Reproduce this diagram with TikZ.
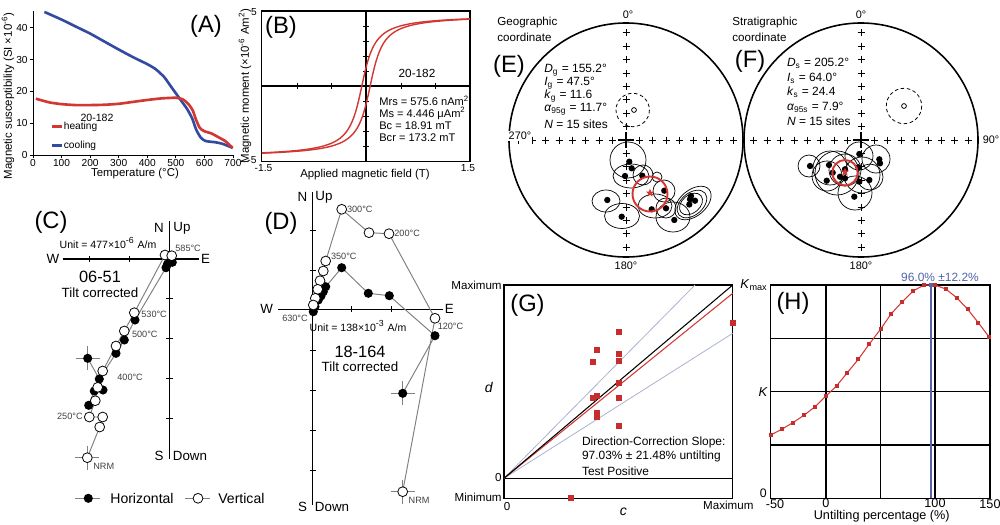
\documentclass[tikz,border=0pt]{standalone}
\usepackage{fontspec}
\setmainfont{Liberation Sans}
\usetikzlibrary{shapes.geometric}
\definecolor{hred}{RGB}{210,55,50}
\definecolor{cblue}{RGB}{50,75,160}
\definecolor{sqred}{RGB}{200,45,45}
\definecolor{lgray}{RGB}{170,178,205}
\definecolor{vblue}{RGB}{85,100,170}
\definecolor{tblue}{RGB}{80,100,170}
\definecolor{zgray}{gray}{0.5}
\newcommand\fsz[1]{\fontsize{#1}{#1}\selectfont}
\tikzset{
  plab/.style={font=\fsz{13.5}},
  axlab/.style={font=\fsz{6.5}},
  ticklab/.style={font=\fsz{5.8}},
  nsew/.style={font=\fsz{7.6}},
  tmp/.style={font=\fsz{5.2}, text=black!75},
  stat/.style={font=\fsz{6.8}, anchor=west},
  ell/.style={draw=black, line width=0.4pt},
  zline/.style={draw=zgray, line width=0.55pt},
  crs/.style={draw=zgray, line width=0.45pt},
  odot/.style={draw=black, fill=white, line width=0.45pt},
  pmark/.pic={\draw[line width=0.45pt] (-3.5,0)--(3.5,0) (0,-3.5)--(0,3.5);},
  rsq/.pic={\fill[sqred] (-3,-3) rectangle (3,3);},
  hsq/.pic={\fill[sqred] (-2,-2) rectangle (2,2);},
}
\begin{document}
\begin{tikzpicture}[x=0.02cm, y=-0.02cm, every node/.append style={inner sep=0pt}]
\useasboundingbox (0,0) rectangle (1000,524);

% ================= Panel A =================
\draw[line width=0.5pt] (33,11) -- (33,155) -- (233,155);
\foreach \v [count=\i from 0] in {0,100,200,300,400,500,600,700}{
  \draw[line width=0.5pt] (33+\i*28.57,155) -- ++(0,3);
  \node[ticklab] (ax\i) at (33+\i*28.57,163) {\v};
}
\foreach \v in {0,10,20,30,40}{
  \draw[line width=0.5pt] (33,155-\v*3.18) -- ++(-3,0);
  \node[ticklab, anchor=east] (ay\v) at (28,155-\v*3.18) {\v};
}
\begin{scope}[shift={(33,155)}, x=0.005714cm, y=0.0636cm]
\draw[cblue, line width=1.5pt, line join=round] plot[smooth, tension=0.4] coordinates {(40,45) (100,42.6) (150,40.4) (200,38.2) (250,35.7) (300,33.2) (350,30.8) (400,28.6) (430,27) (460,24.5) (480,22) (500,19.5) (520,17) (540,14.5) (558,11.5) (572,8) (588,5.5) (605,4.4) (640,4) (665,3.5) (690,2.6) (700,2.2)};
\draw[hred, line width=1.5pt, line join=round] plot[smooth, tension=0.4] coordinates {(10,17.7) (30,17.2) (60,16.5) (100,16) (150,15.7) (200,15.7) (250,15.8) (300,16.1) (350,16.7) (400,17.3) (450,17.8) (500,18) (525,17.5) (545,16) (560,14) (572,11) (585,8.5) (600,7.5) (625,6.8) (650,5.6) (675,4.3) (700,2.2)};
\end{scope}
\draw[hred, line width=1.5pt] (52,126.7) -- (62,126.7);
\draw[cblue, line width=1.5pt] (52,145.5) -- (62,145.5);
\node[font=\fsz{5.8}, anchor=west] (aheat) at (63.5,126.7) {heating};
\node[font=\fsz{5.8}, anchor=west] (acool) at (63.5,145.5) {cooling};
\node[font=\fsz{6}] (aid) at (97,118) {20-182};
\node[plab] (pA) at (206,26.5) {(A)};
\node[axlab] (axA) at (135,174) {Temperature (°C)};
\node[axlab, rotate=90] (ayA) at (8,96) {Magnetic susceptibility (SI ×10\textsuperscript{-6})};

% ================= Panel B =================
\draw[line width=0.7pt] (261.7,11) rectangle (470,161.7);
\draw[line width=0.6pt] (261.7,86) -- (470,86);
\draw[line width=0.6pt] (366,11) -- (366,161.7);
\foreach \xx in {297,331.7,401,435} \draw[line width=0.5pt] (\xx,83) -- (\xx,89);
\foreach \yy in {26,41,56,71,101,116,131,146} \draw[line width=0.5pt] (363,\yy) -- (369,\yy);
\begin{scope}[shift={(366,86)}, x=1.388cm, y=0.3cm]
\draw[hred, line width=0.8pt] plot[domain=-1.5:1.5, samples=150] (\x, {4.75*atan((\x+0.06)/0.14)/90});
\draw[hred, line width=0.8pt] plot[domain=-1.5:1.5, samples=150] (\x, {4.75*atan((\x-0.06)/0.14)/90});
\end{scope}
\node[plab] (pB) at (281,27) {(B)};
\node[font=\fsz{6.7}] (bid) at (417,73) {20-182};
\node[stat, font=\fsz{6.3}] (bs1) at (379,101) {Mrs = 575.6 nAm\textsuperscript{2}};
\node[stat, font=\fsz{6.3}] (bs2) at (379,113.5) {Ms = 4.446 μAm\textsuperscript{2}};
\node[stat, font=\fsz{6.3}] (bs3) at (379,126) {Bc = 18.91 mT};
\node[stat, font=\fsz{6.3}] (bs4) at (379,138) {Bcr = 173.2 mT};
\node[ticklab] (b5) at (254,12) {5};
\node[ticklab] (bm5) at (252,160) {-5};
\node[ticklab] (bm15) at (263.5,168.5) {-1.5};
\node[ticklab] (b15) at (468,168.5) {1.5};
\node[axlab] (axB) at (365,175) {Applied magnetic field (T)};
\node[axlab, rotate=90] (ayB) at (245,86) {Magnetic moment (×10\textsuperscript{-6} Am\textsuperscript{2})};

% ================= Panel C =================
\draw[line width=0.75pt] (63,259) -- (199,259);
\draw[line width=0.75pt] (169.3,221) -- (169.3,459);
\foreach \xx in {89,129} \draw[line width=0.45pt] (\xx,256) -- (\xx,262);
\foreach \yy in {298,338,378,418} \draw[line width=0.45pt] (166,\yy) -- (172.5,\yy);
\node[nsew] (cN) at (159,228) {N};
\node[nsew] (cUp) at (182,228) {Up};
\node[nsew] (cW) at (53,259) {W};
\node[nsew] (cE) at (205.5,259) {E};
\node[nsew] (cS) at (159,456) {S};
\node[nsew] (cDown) at (190,456) {Down};
\node[plab] (pC) at (51,222) {(C)};
\node[font=\fsz{6}] (cunit) at (108,243) {Unit = 477×10\textsuperscript{-6} A/m};
\node[font=\fsz{9.3}] (cid) at (100,277) {06-51};
\node[font=\fsz{7.6}] (ctc) at (100,293) {Tilt corrected};
% crosses
\draw[crs] (75.7,358.3) -- (99.7,358.3) (87.7,346.3) -- (87.7,370.3);
\draw[crs] (75.3,457.7) -- (99.3,457.7) (87.3,445.7) -- (87.3,469.7);
% lines
\draw[zline] (87.7,358.3) -- (99.3,379) -- (116,353.3) -- (124.3,340) -- (135,320) -- (166,267.7) -- (172.3,262.3);
\draw[zline] (88.7,405.3) -- (94.3,391) -- (103,390) -- (99.3,379);
\draw[zline] (87.3,457.7) -- (99.7,427) -- (102.7,417) -- (89.3,417) -- (95.3,400.7) -- (97.7,387.3) -- (102.7,371) -- (116,346) -- (124.3,331) -- (134.3,312.7) -- (165,255) -- (171.7,255.7);
\foreach \p in {(87.7,358.3),(99.3,379),(103,390),(94.3,391),(88.7,405.3),(116,353.3),(124.3,340),(135,320),(166,267.7),(172.3,262.3),(167.5,264)}
  \fill \p circle (2.6pt);
\foreach \p in {(99.7,427),(102.7,417),(89.3,417),(95.3,400.7),(97.7,387.3),(102.7,371),(116,346),(124.3,331),(134.3,312.7),(165,255),(171.7,255.7),(87.3,457.7)}
  \draw[odot] \p circle (2.8pt);
\node[tmp, anchor=west] (c585) at (175,248.3) {585°C};
\node[tmp, anchor=west] (c530) at (141,314) {530°C};
\node[tmp, anchor=west] (c500) at (131.7,334.3) {500°C};
\node[tmp, anchor=west] (c400) at (117,377.7) {400°C};
\node[tmp, anchor=east] (c250) at (83,416.7) {250°C};
\node[tmp, anchor=west] (cnrm) at (93,466.7) {NRM};
% legend
\draw[zline] (75,498.3) -- (100,498.3);
\fill (88.3,498.3) circle (2.6pt);
\node[font=\fsz{8}, anchor=west] (lh) at (110,498.3) {Horizontal};
\draw[zline] (185,498.3) -- (210,498.3);
\draw[odot] (198,498.3) circle (2.8pt);
\node[font=\fsz{8}, anchor=west] (lv) at (218,498.3) {Vertical};

% ================= Panel D =================
\draw[line width=0.75pt] (278,309.3) -- (443.3,309.3);
\draw[line width=0.75pt] (312.7,192) -- (312.7,505);
\foreach \xx in {351,391} \draw[line width=0.45pt] (\xx,306.3) -- (\xx,312.3);
\foreach \yy in {230,270,350,390,430,470} \draw[line width=0.45pt] (309.5,\yy) -- (316,\yy);
\node[nsew] (dN) at (302.5,197) {N};
\node[nsew] (dUp) at (324,197) {Up};
\node[nsew] (dW) at (266.7,309.3) {W};
\node[nsew] (dE) at (449.3,309.3) {E};
\node[nsew] (dS) at (302.5,507) {S};
\node[nsew] (dDown) at (332,507) {Down};
\node[plab] (pD) at (281,223) {(D)};
\node[font=\fsz{6}] (dunit) at (358,326) {Unit = 138×10\textsuperscript{-3} A/m};
\node[font=\fsz{9.3}] (did) at (360,351.5) {18-164};
\node[font=\fsz{7.6}] (dtc) at (360,367) {Tilt corrected};
\draw[crs] (390.7,393.3) -- (414.7,393.3) (402.7,381.3) -- (402.7,405.3);
\draw[crs] (390.7,491.7) -- (414.7,491.7) (402.7,479.7) -- (402.7,503.7);
\draw[zline] (402.7,393.3) -- (435,335.7) -- (389.3,295.7) -- (368.3,293.3) -- (341.7,267.7) -- (325.7,286.7) -- (323.3,291.7) -- (321,296) -- (318.3,300) -- (315,306.7) -- (313.3,311.7);
\draw[zline] (402.7,491.7) -- (435,318.3) -- (389,233.7) -- (369,232.7) -- (341.7,209.3) -- (325.7,261) -- (323.3,271) -- (320,280.7) -- (317.7,289.3) -- (315.3,298.3) -- (313.3,305);
\foreach \p in {(402.7,393.3),(435,335.7),(389.3,295.7),(368.3,293.3),(341.7,267.7),(325.7,286.7),(323.3,291.7),(321,296),(318.3,300),(315,306.7),(313.3,311.7)}
  \fill \p circle (2.6pt);
\foreach \p in {(402.7,491.7),(435,318.3),(389,233.7),(369,232.7),(341.7,209.3),(325.7,261),(323.3,271),(320,280.7),(317.7,289.3),(315.3,298.3),(313.3,305)}
  \draw[odot] \p circle (2.8pt);
\node[tmp, anchor=west] (d300) at (346.7,209.3) {300°C};
\node[tmp, anchor=west] (d200) at (394,233.3) {200°C};
\node[tmp, anchor=west] (d350) at (330.7,256) {350°C};
\node[tmp] (d630) at (295,318.3) {630°C};
\node[tmp] (d120) at (450.5,326.7) {120°C};
\node[tmp, anchor=west] (dnrm) at (408.3,500) {NRM};

% ================= Panel E =================
\draw[line width=0.9pt] (626,140) circle (117);
\foreach \k in {1,...,8}{
  \pic at (626,140-13.4*\k) {pmark};
  \pic at (626,140+13.4*\k) {pmark};
  \pic at (626-13.4*\k,140) {pmark};
  \pic at (626+13.4*\k,140) {pmark};
}
\draw[line width=1.1pt] (618,140) -- (634,140) (626,132) -- (626,148);
\draw[line width=0.45pt, dash pattern=on 2pt off 1.5pt] (632.7,110) circle (16.7);
\draw[line width=0.45pt] (634,110) circle (2.4);
\node[font=\fsz{6.2}] (e0) at (628,14.5) {0°};
\node[font=\fsz{6.2}] (e180) at (626,265.5) {180°};
\node[font=\fsz{6.2}, fill=white, inner sep=0.5pt] (e270) at (520,136) {270°};
\node[font=\fsz{6.6}, anchor=west] (eg1) at (497,22.5) {Geographic};
\node[font=\fsz{6.6}, anchor=west] (eg2) at (497,37.5) {coordinate};
\node[plab] (pE) at (509,66) {(E)};
\node[stat] (eD) at (544,70) {\textit{D}\textsubscript{g} = 155.2°};
\node[stat] (eI) at (544,83) {\textit{I}\textsubscript{g} = 47.5°};
\node[stat] (eK) at (544,96) {\textit{k}\textsubscript{g} = 11.6};
\node[stat] (eA) at (544,109.5) {\textit{α}\textsubscript{95g} = 11.7°};
\node[stat] (eN) at (544,124.5) {\textit{N} = 15 sites};
% ellipses
\draw[ell] (628,160) circle (18);
\draw[ell] (631,176) ellipse [x radius=18, y radius=12];
\draw[ell] (643,175) circle (10);
\draw[ell] (657,177) circle (5);
\draw[ell] (664,191) circle (11);
\draw[ell] (606,201) ellipse [x radius=14, y radius=11];
\draw[ell] (622,216) ellipse [x radius=17.5, y radius=12.5];
\draw[ell] (655,206) ellipse [x radius=17, y radius=12];
\draw[ell] (673,217) ellipse [x radius=17, y radius=15];
\draw[ell] (666,208) circle (10);
\draw[ell, rotate around={40:(693,203)}] (693,203) ellipse [x radius=21, y radius=13];
\draw[ell, rotate around={40:(692,204)}] (692,204) ellipse [x radius=17, y radius=11];
\draw[ell, rotate around={40:(691,204)}] (691,204) ellipse [x radius=13, y radius=9];
\foreach \p in {(629.3,161.7),(631.7,168.3),(625,176),(642.3,175.7),(664.3,190.7),(607.3,200),(651.7,209.3),(666,208.3),(621.7,216.7),(674.3,220),(690,199.3),(695,200.7),(689.3,204.5),(691,196)}
  \fill \p circle (1.8pt);
\draw[hred, line width=1.1pt] (650,194) circle (17.5);
\node[star, star points=5, star point ratio=2.4, fill=hred, minimum size=5pt] (estar) at (650,193) {};

% ================= Panel F =================
\draw[line width=0.9pt] (861,140) circle (117);
\foreach \k in {1,...,8}{
  \pic at (861,140-13.4*\k) {pmark};
  \pic at (861,140+13.4*\k) {pmark};
  \pic at (861-13.4*\k,140) {pmark};
  \pic at (861+13.4*\k,140) {pmark};
}
\draw[line width=1.1pt] (853,140) -- (869,140) (861,132) -- (861,148);
\draw[line width=0.45pt, dash pattern=on 2pt off 1.5pt] (904,106) circle (17.7);
\draw[line width=0.45pt] (904,106) circle (2.4);
\node[font=\fsz{6.2}] (f0) at (861,14.5) {0°};
\node[font=\fsz{6.2}] (f180) at (861,265.5) {180°};
\node[font=\fsz{6.2}] (f90) at (991,140) {90°};
\node[font=\fsz{6.6}, anchor=west] (fg1) at (732,22.5) {Stratigraphic};
\node[font=\fsz{6.6}, anchor=west] (fg2) at (732,37.5) {coordinate};
\node[plab] (pF) at (750,61) {(F)};
\node[stat] (fD) at (786.7,63.3) {\textit{D}\textsubscript{s} = 205.2°};
\node[stat] (fI) at (786.7,78) {\textit{I}\textsubscript{s} = 64.0°};
\node[stat] (fK) at (786.7,92) {\textit{k}\textsubscript{s} = 24.4};
\node[stat] (fA) at (786.7,107.3) {\textit{α}\textsubscript{95s} = 7.9°};
\node[stat] (fN) at (786.7,121.7) {\textit{N} = 15 sites};
\draw[ell] (809,166) circle (11);
\draw[ell] (837,173) circle (22);
\draw[ell] (859,156) circle (14);
\draw[ell] (876,159) circle (14);
\draw[ell] (855,193) circle (17);
\draw[ell] (870,177) circle (13);
\draw[ell] (827,176) circle (15);
\draw[ell] (845,170) circle (16);
\draw[ell] (830,168) circle (17);
\draw[ell] (862,175) circle (18);
\foreach \p in {(859.3,154),(879.3,159.3),(880,163.3),(810,166),(829,165),(845,169.3),(858.3,167.3),(832.7,172.7),(840,176.7),(826.7,180.7),(869.3,180),(859.3,181.7),(854.3,196.7),(845,178.3)}
  \fill \p circle (1.8pt);
\draw[hred, line width=1.1pt] (845,172.7) circle (12.7);
\node[star, star points=5, star point ratio=2.4, fill=hred, minimum size=5pt] (fstar) at (845,172) {};

% ================= Panel G =================
\draw[line width=0.7pt] (504,285) rectangle (732.7,498.3);
\draw[line width=0.7pt] (504,478.3) -- (732.7,478.3);
\coordinate (g0) at (504,478.3);
\coordinate (gu) at (695,285);
\coordinate (gl) at (732.7,333.3);
\coordinate (gr) at (732.7,293.3);
\coordinate (gk) at (732.7,285);
\draw[lgray, line width=0.45pt] (g0) -- (gu);
\draw[lgray, line width=0.45pt] (g0) -- (gl);
\draw[hred, line width=0.6pt] (g0) -- (gr);
\draw[black, line width=0.6pt] (g0) -- (gk);
\foreach \p in {(619,331.7),(596.7,350),(592.7,361.7),(619,354.3),(619,361),(619,383.3),(619.3,397.7),(592.7,398.3),(596.7,396),(597.3,412.7),(597.3,416.7),(619.3,426),(733.3,322.7),(571,498.3)}
  \pic at \p {rsq};
\node[plab] (pG) at (527.5,305) {(G)};
\node[font=\fsz{6.6}, anchor=east] (gmax) at (502,285) {Maximum};
\node[font=\fsz{6.6}, anchor=east] (gz) at (502,477.5) {0};
\node[font=\fsz{6.6}, anchor=east] (gmin) at (502,497.5) {Minimum};
\node[font=\fsz{8}] (gd) at (489,387) {\textit{d}};
\node[font=\fsz{6.6}] (gz2) at (507,507) {0};
\node[font=\fsz{6.6}] (gmax2) at (728.3,505.5) {Maximum};
\node[font=\fsz{8}] (gc) at (623.3,512) {\textit{c}};
\node[stat] (gt1) at (581.7,442.7) {Direction-Correction Slope:};
\node[stat] (gt2) at (581.7,456.8) {97.03\% ± 21.48\% untilting};
\node[stat] (gt3) at (581.7,471) {Test Positive};

% ================= Panel H =================
\foreach \xx in {826,880.7,935} \draw[line width=0.75pt] (\xx,285) -- (\xx,498.3);
\foreach \yy in {338.3,391.7,445} \draw[line width=0.75pt] (770.7,\yy) -- (990,\yy);
\draw[line width=0.75pt] (770.7,285) rectangle (990,498.3);
\draw[vblue, line width=1.1pt] (930.7,285) -- (930.7,498.3);
\draw[hred, line width=0.6pt] (770.7,435) -- (781.7,429.3) -- (792.7,422.7) -- (804,415.3) -- (815,406.7) -- (826,396) -- (836.7,385.7) -- (847.3,372.7) -- (858.3,359.3) -- (869.3,344) -- (880.7,329) -- (891,314) -- (902.3,301.7) -- (913,291) -- (924,285) -- (935,285) -- (945.7,289) -- (956.7,297.7) -- (967.7,309.3) -- (978.3,322.7) -- (989.3,337.3);
\foreach \p in {(770.7,435),(781.7,429.3),(792.7,422.7),(804,415.3),(815,406.7),(826,396),(836.7,385.7),(847.3,372.7),(858.3,359.3),(869.3,344),(880.7,329),(891,314),(902.3,301.7),(913,291),(924,285),(935,285),(945.7,289),(956.7,297.7),(967.7,309.3),(978.3,322.7),(989.3,337.3)}
  \pic at \p {hsq};
\fill[vblue] (928.7,283) rectangle (932.7,287);
\node[plab] (pH) at (793,303) {(H)};
\node[font=\fsz{6.8}, text=tblue] (hpk) at (940,277.3) {96.0\% ±12.2\%};
\node[font=\fsz{7.4}, anchor=east] (hkmax) at (768,285) {\textit{K}\textsubscript{max}};
\node[font=\fsz{7.4}, anchor=east] (hk) at (768,391.7) {\textit{K}};
\node[font=\fsz{7}, anchor=east] (hz) at (767,493.5) {0};
\node[font=\fsz{7.2}] (hm50) at (775,504) {-50};
\node[font=\fsz{7.2}] (h0) at (826,503.5) {0};
\node[font=\fsz{7.2}] (h100) at (935,503.5) {100};
\node[font=\fsz{7.2}] (h150) at (990,504) {150};
\node[font=\fsz{7.2}] (hax) at (881.7,516.5) {Untilting percentage (\%)};

\end{tikzpicture}
\end{document}
